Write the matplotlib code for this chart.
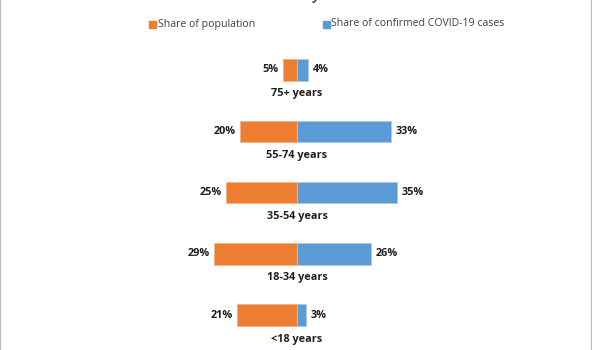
import matplotlib.pyplot as plt
from matplotlib.patches import Rectangle
from matplotlib.lines import Line2D

# data
age_groups = ['75+ years', '55-74 years', '35-54 years', '18-34 years', '<18 years']
pop_share = [5, 20, 25, 29, 21]
case_share = [4, 33, 35, 26, 3]
series_names = ['Share of population', 'Share of confirmed COVID-19 cases']

ORANGE = '#ED7D31'
BLUE = '#5B9BD5'
TXT = '#404040'
FONT = ['Open Sans', 'DejaVu Sans']

W, H = 592, 350
fig = plt.figure(figsize=(W / 100, H / 100), dpi=100)
fig.patch.set_facecolor('white')
ax = fig.add_axes([0, 0, 1, 1])
ax.set_xlim(-104.2, 103.5)
ax.set_ylim(4.568, -1.142)
ax.axis('off')

ypos = list(range(len(age_groups)))
ax.barh(ypos, [-p for p in pop_share], height=0.35, color=ORANGE,
        edgecolor='#f6b48a', linewidth=0.6)
ax.barh(ypos, case_share, height=0.35, color=BLUE,
        edgecolor='#a9c9ea', linewidth=0.6)

for y, name, p, c in zip(ypos, age_groups, pop_share, case_share):
    ax.text(-p - 1.5, y, f'{p}%', ha='right', va='center', fontsize=7.8,
            fontweight='bold', color='#1f1f1f', family=FONT)
    ax.text(c + 1.7, y, f'{c}%', ha='left', va='center', fontsize=7.8,
            fontweight='bold', color='#1f1f1f', family=FONT)
    ax.text(0, y + 0.39, name, ha='center', va='center', fontsize=7.8,
            fontweight='bold', color='#1f1f1f', family=FONT)

# title, mostly cut off at top
fig.text(295 / W, 1.012, 'County', ha='center', va='center', fontsize=10,
         fontweight='bold', color='#595959', family=FONT)

# legend, placed by hand
leg_y = 1 - 24 / H
for (sx, tx), name, col in zip([(149, 158), (323, 331)], series_names, [ORANGE, BLUE]):
    fig.add_artist(Rectangle((sx / W, leg_y - 3.5 / H), 6.5 / W, 6.5 / H,
                             transform=fig.transFigure, color=col))
    fig.text(tx / W, leg_y, name, ha='left', va='center', fontsize=7.6,
             color=TXT, family=FONT)

# outer frame lines (left / right)
fig.add_artist(Line2D([0.0008, 0.0008], [0, 1], transform=fig.transFigure,
                      color='#bfbfbf', linewidth=1))
fig.add_artist(Line2D([0.9985, 0.9985], [0, 1], transform=fig.transFigure,
                      color='#bfbfbf', linewidth=1))

fig.savefig('out.png', dpi=100, facecolor='white')
